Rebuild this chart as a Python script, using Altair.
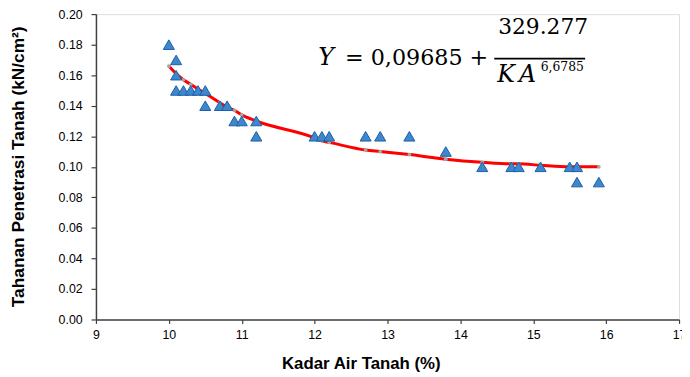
import altair as alt
import pandas as pd

# Observed data (Kadar Air Tanah %, Tahanan Penetrasi Tanah kN/cm2)
obs_x = [10.0, 10.1, 10.1, 10.1, 10.2, 10.3, 10.4, 10.5, 10.5, 10.7, 10.8, 10.9, 11.0,
         11.2, 11.2, 12.0, 12.1, 12.2, 12.7, 12.9, 13.3, 13.8, 14.3, 14.7, 14.8, 15.1,
         15.5, 15.6, 15.6, 15.9]
obs_y = [0.18, 0.17, 0.16, 0.15, 0.15, 0.15, 0.15, 0.15, 0.14, 0.14, 0.14, 0.13, 0.13,
         0.13, 0.12, 0.12, 0.12, 0.12, 0.12, 0.12, 0.12, 0.11, 0.10, 0.10, 0.10, 0.10,
         0.10, 0.10, 0.09, 0.09]

# Fitted curve values
fit_x = [10.0, 10.1, 10.2, 10.3, 10.4, 10.5, 10.7, 10.8, 10.9, 11.0, 11.2, 12.0, 12.1,
         12.2, 12.7, 12.9, 13.3, 13.8, 14.3, 14.7, 14.8, 15.1, 15.5, 15.6, 15.9]
fit_y = [0.166, 0.161, 0.157, 0.154, 0.151, 0.148, 0.142, 0.139, 0.137, 0.134, 0.130,
         0.119, 0.117, 0.116, 0.111, 0.110, 0.108, 0.105, 0.103, 0.102, 0.102, 0.101,
         0.100, 0.100, 0.100]

x_ticks = [9, 10, 11, 12, 13, 14, 15, 16, 17]
y_ticks = [0.00, 0.02, 0.04, 0.06, 0.08, 0.10, 0.12, 0.14, 0.16, 0.18, 0.20]

obs = pd.DataFrame({"x": obs_x, "y": obs_y})
fit = pd.DataFrame({"x": fit_x, "y": fit_y})

FONT = "Liberation Sans"
W, H = 590, 309

xs = alt.Scale(domain=[9, 17], nice=False, zero=False)
ys = alt.Scale(domain=[0, 0.2], nice=False)

xaxis = alt.Axis(values=x_ticks, tickCount=len(x_ticks), format="d",
                 title="Kadar Air Tanah (%)", grid=False,
                 domainColor="#404040", tickColor="#404040", domainWidth=1.5, tickWidth=1.2,
                 tickSize=4, labelFont=FONT, labelFontSize=12.5, labelColor="#000000",
                 labelPadding=5, labelFlush=False, labelOverlap=False,
                 titleFont=FONT, titleFontSize=17, titleFontWeight="bold",
                 titleColor="#000000", titleX=268, titleY=45, titleBaseline="middle",
                 titleAnchor="start", titleAlign="center")
yaxis = alt.Axis(values=y_ticks, tickCount=len(y_ticks), format=".2f",
                 title="Tahanan Penetrasi Tanah (kN/cm²)",
                 grid=False, domainColor="#404040", tickColor="#404040", domainWidth=1.5,
                 tickWidth=1.2, tickSize=5, labelFont=FONT, labelFontSize=12.5,
                 labelColor="#000000", labelPadding=9, labelFlush=False, labelOverlap=False,
                 titleFont=FONT, titleFontSize=17.5,
                 titleFontWeight="bold", titleColor="#000000", titleX=-78, titleY=154,
                 titleBaseline="middle", titleAlign="center", titleAngle=270)

line = alt.Chart(fit).mark_line(color="#ff0000", strokeWidth=3, interpolate="monotone").encode(
    x=alt.X("x:Q", scale=xs, axis=xaxis),
    y=alt.Y("y:Q", scale=ys, axis=yaxis),
)
dots = alt.Chart(fit).mark_circle(color="#a6a6a6", size=14, opacity=1).encode(
    x=alt.X("x:Q", scale=xs, axis=xaxis), y=alt.Y("y:Q", scale=ys, axis=yaxis)
)
pts = alt.Chart(obs).mark_point(shape="triangle-up", filled=True, fill="#3f87cd",
                                stroke="#1a5fa8", strokeWidth=1, size=125, opacity=1).encode(
    x=alt.X("x:Q", scale=xs, axis=xaxis), y=alt.Y("y:Q", scale=ys, axis=yaxis)
)

eq_df = pd.DataFrame({"a": [0]})
SERIF = "DejaVu Serif"


def eq_text(txt, x, y, size=22, style="normal"):
    return alt.Chart(eq_df).mark_text(text=txt, font=SERIF, fontSize=size, fontStyle=style,
                                      align="left", baseline="middle",
                                      color="#000000").encode(x=alt.value(x), y=alt.value(y))


eq_y = eq_text("Y", 225, 44, size=24, style="italic")
eq_main = eq_text("= 0,09685 +", 252, 44, size=22.5)
eq_num = eq_text("329.277", 407, 13)
eq_bar = alt.Chart(eq_df).mark_rule(color="#000000", strokeWidth=1.8).encode(
    x=alt.value(403), x2=alt.value(495), y=alt.value(45))
eq_k = eq_text("K", 406, 62, size=24, style="italic")
eq_a = eq_text("A", 428, 62, size=24, style="italic")
eq_exp = eq_text("6,6785", 450, 54, size=12.5)

chart = alt.layer(line, dots, pts, eq_y, eq_main, eq_num, eq_bar, eq_k, eq_a, eq_exp).properties(
    width=W, height=H,
    autosize=alt.AutoSizeParams(type="none"),
    padding={"left": 89, "top": 4, "right": 3, "bottom": 56},
).configure_view(stroke=None).configure(background="#ffffff")

chart.save("out.html", embed_options={"renderer": "svg", "actions": False})
